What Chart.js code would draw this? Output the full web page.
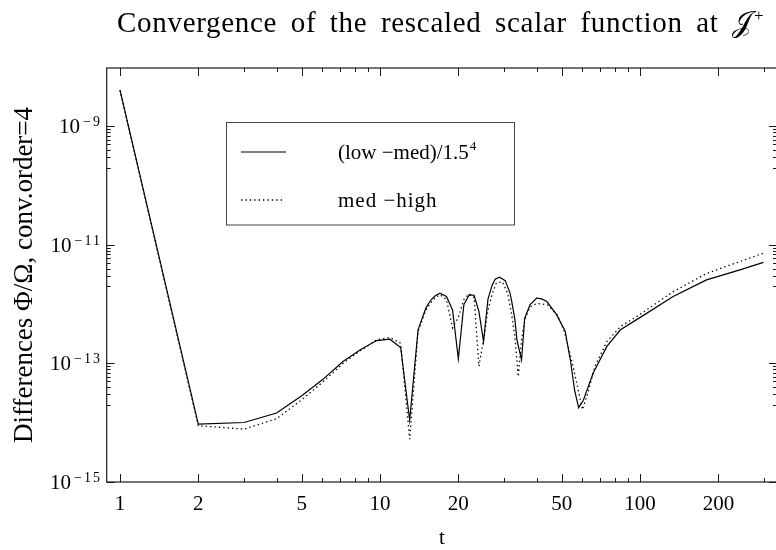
<!DOCTYPE html>
<html>
<head>
<meta charset="utf-8">
<script src="https://cdn.jsdelivr.net/npm/chart.js@4.4.0/dist/chart.umd.min.js"></script>
<style>
  html, body { margin: 0; padding: 0; background: #fff; overflow: hidden; width: 776px; height: 550px; }
  canvas { display: block; }
</style>
</head>
<body>
<canvas id="conv" width="780" height="550"></canvas>
<script>
// (low - med)/1.5^4
const tLowMed = [1, 2, 3, 4, 5, 6, 7.2, 8.4, 9.7, 10.9, 12, 13, 14, 15, 15.7, 16.3, 17, 18, 19, 20, 21, 22, 23, 24, 25, 26, 27, 27.7, 28.8, 30.3, 31.6, 32.1, 33, 33.6, 35, 36, 37.7, 40, 41.8, 43.8, 47.8, 51.5, 54, 56, 58, 60.5, 66, 74.5, 84, 97, 134, 180, 242, 298];
const lowMed = [4.1e-9, 9.5e-15, 1.01e-14, 1.46e-14, 2.85e-14, 5.3e-14, 1.08e-13, 1.7e-13, 2.44e-13, 2.57e-13, 1.86e-13, 1.1e-14, 3.7e-13, 8.6e-13, 1.19e-12, 1.39e-12, 1.54e-12, 1.35e-12, 8.0e-13, 1.2e-13, 9.8e-13, 1.44e-12, 1.42e-12, 7.5e-13, 2.35e-13, 1.22e-12, 2.12e-12, 2.65e-12, 2.86e-12, 2.5e-12, 1.54e-12, 1.11e-12, 5.5e-13, 2.5e-13, 1.15e-13, 5.8e-13, 9.8e-13, 1.27e-12, 1.23e-12, 1.11e-12, 6.6e-13, 3.5e-13, 1.1e-13, 3.5e-14, 1.8e-14, 2.4e-14, 6.9e-14, 1.94e-13, 3.7e-13, 5.5e-13, 1.35e-12, 2.58e-12, 3.8e-12, 5.1e-12];

// med - high
const tMedHigh = [1, 2, 3, 4, 5, 6, 7.2, 8.4, 9.7, 10.9, 12, 13, 14, 15, 16, 17, 18, 19, 20, 21, 22, 23, 24, 25, 26, 27, 28, 29.5, 31, 32, 33, 34, 35, 36, 37.7, 40, 44, 48, 51, 54.5, 57.6, 60, 63, 67, 74.5, 84, 97, 134, 180, 242, 298];
const medHigh = [4.1e-9, 8.9e-15, 7.8e-15, 1.17e-14, 2.44e-14, 4.8e-14, 1.0e-13, 1.65e-13, 2.5e-13, 2.75e-13, 2.2e-13, 5.3e-15, 3.5e-13, 8e-13, 1.2e-12, 1.45e-12, 1.2e-12, 4e-13, 6e-13, 1.2e-12, 1.5e-12, 1.3e-12, 9e-14, 2.5e-13, 8e-13, 1.5e-12, 2.27e-12, 2.4e-12, 1.5e-12, 7.1e-13, 2.85e-13, 6e-14, 2.5e-13, 5.5e-13, 9e-13, 1.03e-12, 9.8e-13, 6.6e-13, 3.6e-13, 1.15e-13, 3.85e-14, 1.66e-14, 3.2e-14, 8.9e-14, 2.35e-13, 4.2e-13, 6.2e-13, 1.63e-12, 3.3e-12, 5.25e-12, 7.3e-12];

// ticks
const xMajor = [1, 2, 5, 10, 20, 50, 100, 200];
const xMinor = [3, 4, 6, 7, 8, 9, 30, 40, 60, 70, 80, 90, 300];
const yMajorExp = [-9, -11, -13, -15];

const serif = '"Liberation Serif", "Times New Roman", "DejaVu Serif", serif';
const ink = '#1a1a1a';

const toPoints = (ts, vs) => ts.map((t, i) => ({ x: t, y: vs[i] }));

// frame, inward ticks, labels, legend and titles
const decor = {
  id: 'decor',
  afterDatasetsDraw(chart) {
    const { ctx, chartArea: a, scales: { x, y } } = chart;
    ctx.save();
    ctx.strokeStyle = ink;
    ctx.fillStyle = '#000';

    // frame
    ctx.lineWidth = 1.2;
    ctx.strokeRect(a.left, a.top, a.right - a.left, a.bottom - a.top);

    // x ticks (bottom and top)
    ctx.lineWidth = 1;
    const xt = (v, len) => {
      const px = Math.round(x.getPixelForValue(v)) + 0.5;
      ctx.beginPath();
      ctx.moveTo(px, a.bottom); ctx.lineTo(px, a.bottom - len);
      ctx.moveTo(px, a.top); ctx.lineTo(px, a.top + len);
      ctx.stroke();
    };
    xMajor.forEach(v => xt(v, 8));
    xMinor.forEach(v => xt(v, 4));

    // y ticks (left and right)
    const yt = (v, len) => {
      const py = Math.round(y.getPixelForValue(v)) + 0.5;
      ctx.beginPath();
      ctx.moveTo(a.left, py); ctx.lineTo(a.left + len, py);
      ctx.moveTo(a.right, py); ctx.lineTo(a.right - len, py);
      ctx.stroke();
    };
    yMajorExp.forEach(e => {
      yt(Math.pow(10, e), 8);
      if (e > -15) for (let k = 2; k <= 9; k++) yt(k * Math.pow(10, e - 1), 4);
    });

    // x tick labels
    ctx.font = `21px ${serif}`;
    ctx.textAlign = 'center';
    ctx.textBaseline = 'alphabetic';
    xMajor.forEach(v => ctx.fillText(String(v), x.getPixelForValue(v), 510));

    // y tick labels 10^e
    yMajorExp.forEach(e => {
      const py = y.getPixelForValue(Math.pow(10, e));
      const right = 100;
      ctx.textAlign = 'left';
      ctx.font = `14px ${serif}`;
      ctx.letterSpacing = '2px';
      const sup = '\u2212' + Math.abs(e);
      const sw = ctx.measureText(sup).width - 2;
      ctx.fillText(sup, right - sw, py);
      ctx.letterSpacing = '0px';
      ctx.font = `21px ${serif}`;
      const bw = ctx.measureText('10').width;
      ctx.fillText('10', right - sw - 3 - bw, py + 7);
    });

    // axis titles
    ctx.textAlign = 'center';
    ctx.font = `21px ${serif}`;
    ctx.fillText('t', (a.left + a.right) / 2, 544);

    ctx.save();
    ctx.translate(31.5, (a.top + a.bottom) / 2);
    ctx.rotate(-Math.PI / 2);
    ctx.font = `27px ${serif}`;
    ctx.fillText('Differences \u03A6/\u03A9, conv.order=4', 0, 0);
    ctx.restore();

    // chart title
    ctx.textAlign = 'left';
    ctx.font = `29px ${serif}`;
    ctx.letterSpacing = '0.7px';
    ctx.wordSpacing = '5.6px';
    const title = 'Convergence of the rescaled scalar function at ';
    ctx.fillText(title, 117, 31.5);
    const tw = ctx.measureText(title).width;
    ctx.letterSpacing = '0px';
    ctx.wordSpacing = '0px';
    ctx.fillText('\uD835\uDCA5', 117 + tw, 31.5);
    const jw = ctx.measureText('\uD835\uDCA5').width;
    ctx.font = `17px ${serif}`;
    ctx.fillText('+', 117 + tw + jw + 2, 21);

    // legend
    ctx.fillStyle = '#fff';
    ctx.fillRect(226, 122.5, 288, 102.5);
    ctx.strokeStyle = '#444';
    ctx.lineWidth = 1;
    ctx.strokeRect(226.5, 122.5, 288, 102.5);
    ctx.strokeStyle = '#000';
    ctx.lineWidth = 1.2;
    ctx.beginPath(); ctx.moveTo(241, 152); ctx.lineTo(286, 152); ctx.stroke();
    ctx.lineWidth = 1.3;
    ctx.setLineDash([1.4, 3]);
    ctx.beginPath(); ctx.moveTo(241, 200); ctx.lineTo(283, 200); ctx.stroke();
    ctx.setLineDash([]);
    ctx.fillStyle = '#000';
    ctx.font = `21px ${serif}`;
    ctx.letterSpacing = '0px';
    const l1 = '(low \u2212med)/1.5';
    ctx.fillText(l1, 338, 159);
    const l1w = ctx.measureText(l1).width;
    ctx.font = `13px ${serif}`;
    ctx.fillText('4', 338 + l1w + 1, 150);
    ctx.font = `21px ${serif}`;
    ctx.letterSpacing = '1px';
    ctx.fillText('med \u2212high', 338, 207);
    ctx.restore();
  }
};

new Chart(document.getElementById('conv'), {
  type: 'line',
  data: {
    datasets: [
      {
        label: '(low \u2212 med)/1.5\u2074',
        data: toPoints(tLowMed, lowMed),
        borderColor: '#000',
        borderWidth: 1.2,
        pointRadius: 0,
        tension: 0,
        fill: false
      },
      {
        label: 'med \u2212 high',
        data: toPoints(tMedHigh, medHigh),
        borderColor: '#000',
        borderWidth: 1.3,
        borderDash: [1.4, 3],
        pointRadius: 0,
        tension: 0,
        fill: false
      }
    ]
  },
  options: {
    responsive: false,
    animation: false,
    events: [],
    layout: { padding: { top: 68, right: 3, bottom: 0, left: 0 } },
    plugins: { legend: { display: false }, tooltip: { enabled: false }, title: { display: false } },
    scales: {
      x: {
        type: 'logarithmic',
        min: 0.889,
        max: 336,
        grid: { display: false },
        border: { display: false },
        ticks: { display: false },
        afterFit: s => { s.height = 68; }
      },
      y: {
        type: 'logarithmic',
        min: 1e-15,
        max: 9.7e-9,
        grid: { display: false },
        border: { display: false },
        ticks: { display: false },
        afterFit: s => { s.width = 106.7; }
      }
    }
  },
  plugins: [decor]
});
</script>
</body>
</html>
